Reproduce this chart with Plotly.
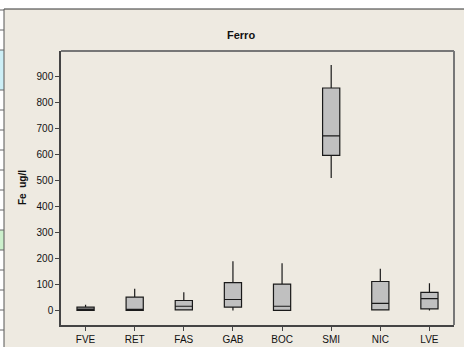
import plotly.graph_objects as go

# Summary statistics of iron concentration per site (ug/l)
sites = ["FVE", "RET", "FAS", "GAB", "BOC", "SMI", "NIC", "LVE"]
q1 = [0, 0, 2, 13, 0, 595, 2, 6]
median = [5, 3, 16, 42, 16, 670, 27, 45]
q3 = [13, 51, 38, 107, 101, 854, 111, 69]
lower_whisker = [0, 0, 0, 0, 0, 508, 0, 0]
upper_whisker = [22, 83, 70, 189, 181, 942, 160, 104]
y_ticks = [0, 100, 200, 300, 400, 500, 600, 700, 800, 900]

L, R, T, B = 61, 10, 51, 22
W, H = 464, 347
PW, PH = W - L - R, H - T - B


def px_x(px):
    return (px - L) / PW


def px_y(py):
    return (H - B - py) / PH


fig = go.Figure()
fig.add_trace(go.Box(
    x=sites, q1=q1, median=median, q3=q3,
    lowerfence=lower_whisker, upperfence=upper_whisker,
    fillcolor="#C0C0C0",
    line=dict(color="#1a1a1a", width=1.2),
    whiskerwidth=0, width=0.35, boxpoints=False,
    showlegend=False, hoverinfo="skip",
))

shapes = []
# window background and frame
shapes.append(dict(type="rect", xref="paper", yref="paper", layer="below",
                   x0=px_x(4), x1=px_x(W + 2), y0=px_y(H + 2), y1=px_y(9),
                   fillcolor="#EEEAE1", line=dict(width=0)))
shapes.append(dict(type="line", xref="paper", yref="paper",
                   x0=px_x(4), x1=px_x(W + 2), y0=px_y(9), y1=px_y(9),
                   line=dict(color="#333333", width=1)))
shapes.append(dict(type="line", xref="paper", yref="paper",
                   x0=px_x(4), x1=px_x(4), y0=px_y(9), y1=px_y(H + 2),
                   line=dict(color="#555555", width=1)))
# spreadsheet cells peeking at the left edge
for y0, y1, c in [(50, 90, "#CDEFF6"), (230, 250, "#CCF0CC")]:
    shapes.append(dict(type="rect", xref="paper", yref="paper", layer="below",
                       x0=px_x(-2), x1=px_x(4), y0=px_y(y1), y1=px_y(y0),
                       fillcolor=c, line=dict(width=0)))
for gy in [10, 30, 50, 90, 110, 130, 150, 170, 190, 210, 230, 250, 270, 290, 310, 330]:
    shapes.append(dict(type="line", xref="paper", yref="paper",
                       x0=px_x(-2), x1=px_x(4), y0=px_y(gy), y1=px_y(gy),
                       line=dict(color="#666666", width=1)))
# plot frame (top and right)
shapes.append(dict(type="line", xref="paper", yref="paper",
                   x0=0, x1=1, y0=1, y1=1, line=dict(color="#777777", width=2)))
shapes.append(dict(type="line", xref="paper", yref="paper",
                   x0=1, x1=1, y0=0, y1=1, line=dict(color="#777777", width=2)))

fig.update_layout(
    width=W, height=H,
    margin=dict(l=L, r=R, t=T, b=B, autoexpand=False),
    paper_bgcolor="white", plot_bgcolor="white",
    font=dict(family="Liberation Sans, Arial, sans-serif", size=10, color="#111111"),
    shapes=shapes,
    annotations=[
        dict(text="<b>Ferro</b>", xref="paper", yref="paper",
             x=px_x(240.5), y=px_y(34.5), xanchor="center", yanchor="middle",
             showarrow=False, font=dict(size=11)),
        dict(text="<b>Fe  ug/l</b>", xref="paper", yref="paper",
             x=px_x(22), y=px_y(188), xanchor="center", yanchor="middle",
             textangle=-90, showarrow=False, font=dict(size=10)),
    ],
    xaxis=dict(type="category", range=[-0.5, 7.5], showgrid=False, automargin=False,
               showline=True, linecolor="#444444", linewidth=1.5,
               ticks="outside", ticklen=4, tickcolor="#444444"),
    yaxis=dict(range=[-56, 996], tickvals=y_ticks, showgrid=False, automargin=False,
               zeroline=False, showline=True, linecolor="#444444", linewidth=1.5,
               ticks="outside", ticklen=4, tickcolor="#444444"),
)

fig.write_html("out.html")
